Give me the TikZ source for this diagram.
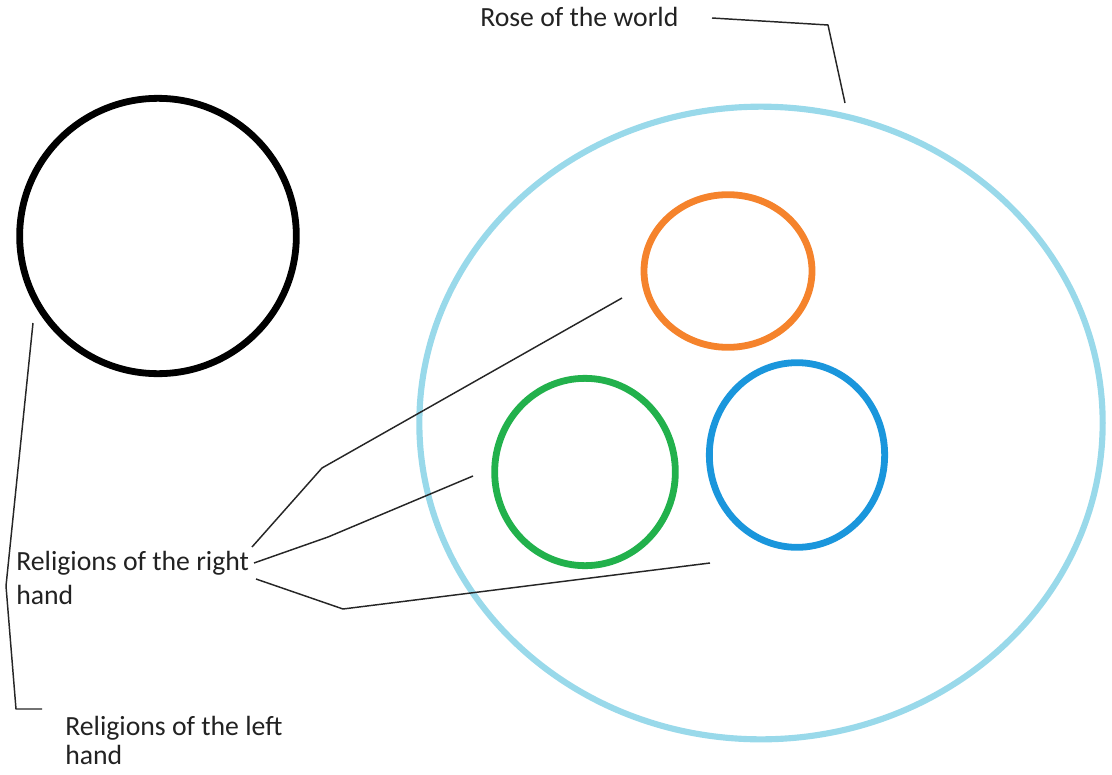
\documentclass[tikz,border=0pt]{standalone}
\usepackage{fontspec}
\setmainfont{Carlito}
\usetikzlibrary{shapes.geometric}
\definecolor{rosec}{HTML}{99D9EA}
\definecolor{orangec}{HTML}{F5832C}
\definecolor{greenc}{HTML}{22B14C}
\definecolor{bluec}{HTML}{1A96DC}
\definecolor{textc}{HTML}{222222}
\begin{document}
\begin{tikzpicture}[x=0.75pt,y=-0.75pt,
  ring/.style={ellipse,draw,line width=5.1pt,inner sep=0pt,outer sep=0pt},
  lead/.style={draw=black!85,line width=1.1pt,line join=round},
  lbl/.style={inner sep=0pt,anchor=base west,text=textc,font=\fontsize{20.8pt}{24pt}\selectfont}]
\useasboundingbox (0,0) rectangle (1112,774);
% circles
\node[ring,draw=black,minimum width=207.5pt,minimum height=206.5pt] (left) at (158,236) {};
\node[ring,draw=rosec,line width=4.6pt,minimum width=512.5pt,minimum height=474.5pt] (rose) at (761,423) {};
\node[ring,draw=orangec,minimum width=126pt,minimum height=114.5pt] (orange) at (728,271) {};
\node[ring,draw=greenc,minimum width=135.5pt,minimum height=140.5pt] (green) at (585,472) {};
\node[ring,draw=bluec,minimum width=131.5pt,minimum height=138.5pt] (blue) at (797,455) {};
% labels
\node[lbl] (rosel) at (480,27) {Rose of the world};
\node[lbl] (right1) at (16,570) {Religions of the right};
\node[lbl] (right2) at (16,604) {hand};
\node[lbl] (left1) at (65,735) {Religions of the left};
\node[lbl] (left2) at (65,764) {hand};
% connector ends
\coordinate (rA) at (712,18);
\coordinate (rB) at (828,25);
\coordinate (rC) at (845,103);
\coordinate (lA) at (33,323);
\coordinate (lB) at (6,586);
\coordinate (lC) at (16,709);
\coordinate (lD) at (42,709);
\coordinate (oA) at (252,547);
\coordinate (oB) at (322,468);
\coordinate (oC) at (622,298);
\coordinate (gA) at (254,563);
\coordinate (gB) at (328,537);
\coordinate (gC) at (473,476);
\coordinate (bA) at (256,579);
\coordinate (bB) at (343,609);
\coordinate (bC) at (710,563);
% connectors
\draw[lead] (rA) -- (rB) -- (rC);
\draw[lead] (lA) -- (lB) -- (lC) -- (lD);
\draw[lead] (oA) -- (oB) -- (oC);
\draw[lead] (gA) -- (gB) -- (gC);
\draw[lead] (bA) -- (bB) -- (bC);
\end{tikzpicture}
\end{document}
